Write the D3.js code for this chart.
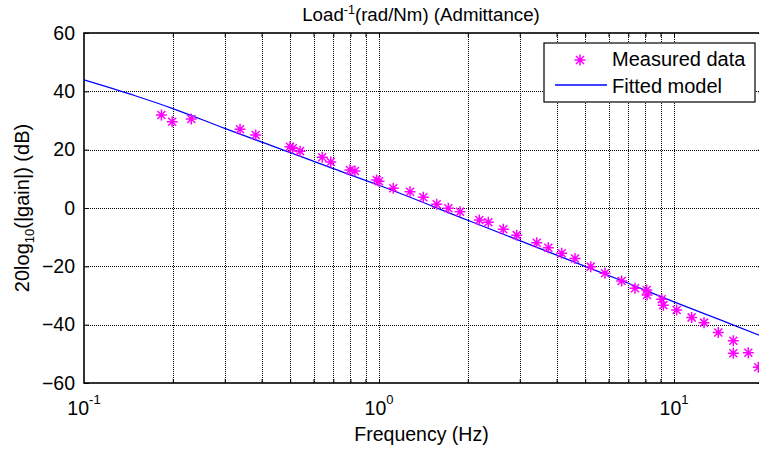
<!DOCTYPE html>
<html>
<head>
<meta charset="utf-8">
<script src="https://cdn.jsdelivr.net/npm/d3@7"></script>
<style>
body { margin: 0; background: #fff; }
svg { display: block; font-family: "Liberation Sans", Arial, sans-serif; }
</style>
</head>
<body>
<script>
//measured frequency response points (Hz, dB)
var measuredFreq = [0.183, 0.199, 0.231, 0.338, 0.382, 0.499, 0.51, 0.54, 0.642, 0.686, 0.797, 0.829,
	0.982, 1.0, 1.118, 1.274, 1.413, 1.569, 1.718, 1.882, 2.188, 2.347, 2.638, 2.93, 3.424, 3.749,
	4.162, 4.617, 5.22, 5.835, 6.647, 7.374, 8.08, 8.1, 9.085, 9.2, 10.21, 11.48, 12.64, 14.13,
	15.89, 15.89, 17.86, 19.31];
var measuredGain = [31.9, 29.6, 30.5, 27.0, 25.0, 21.0, 20.5, 19.5, 17.4, 15.8, 13.0, 12.7,
	9.6, 9.2, 6.8, 5.6, 3.7, 1.3, -0.1, -1.3, -4.1, -4.9, -7.3, -9.3, -11.9, -13.6,
	-15.5, -17.3, -20.1, -22.4, -25.0, -27.5, -28.1, -29.8, -31.3, -33.3, -35.0, -37.5, -39.3, -42.7,
	-45.5, -49.8, -49.6, -54.6];

//fitted model curve
var modelFreq = [0.1, 0.15, 0.2, 0.3, 0.5, 0.7, 1, 2, 3, 5, 7, 10, 15, 20];
var modelGain = [43.9, 38.4, 34.1, 27.3, 19.0, 13.5, 7.8, -4.2, -11.2, -20.0, -25.8, -32.2, -39.1, -44.1];

//axis ticks
var yTicks = [-60, -40, -20, 0, 20, 40, 60];
var xTickExps = [-1, 0, 1];
var xDomain = [0.1, 20];
var yDomain = [-60, 60];

//frame
var width = 759,
	height = 451,
	plotLeft = 84,
	plotTop = 33,
	plotBottom = 383,
	decade = 295,
	plotRight = plotLeft + decade * Math.log10(xDomain[1] / xDomain[0]),
	tickFont = 19.5;

var x = d3.scaleLog()
	.domain(xDomain)
	.range([plotLeft, plotRight]);

var y = d3.scaleLinear()
	.domain(yDomain)
	.range([plotBottom, plotTop]);

//snap a coordinate to the pixel grid so dotted lines stay crisp
function snap(v){
	return Math.round(v) + 0.5;
}

var svg = d3.select("body")
	.append("svg")
	.attr("width", width)
	.attr("height", height);

//dotted grid
var minorTicks = x.ticks().filter(function(d){ return d > xDomain[0] && d < xDomain[1]; });

svg.append("g")
	.attr("class", "grid")
	.selectAll("line")
	.data(minorTicks)
	.enter()
	.append("line")
	.attr("x1", function(d){ return snap(x(d)); })
	.attr("x2", function(d){ return snap(x(d)); })
	.attr("y1", plotTop)
	.attr("y2", plotBottom)
	.attr("stroke", "#000")
	.attr("stroke-width", 1)
	.attr("stroke-dasharray", "1,1");

svg.append("g")
	.attr("class", "grid")
	.selectAll("line")
	.data(yTicks.slice(1, -1))
	.enter()
	.append("line")
	.attr("x1", plotLeft)
	.attr("x2", plotRight)
	.attr("y1", function(d){ return snap(y(d)); })
	.attr("y2", function(d){ return snap(y(d)); })
	.attr("stroke", "#000")
	.attr("stroke-width", 1)
	.attr("stroke-dasharray", "1,1");

//inward tick marks, bottom/top
var xAxisBottom = d3.axisBottom(x).tickValues(minorTicks).tickSizeInner(-4).tickSizeOuter(0).tickFormat("");
svg.append("g").attr("transform", "translate(0," + plotBottom + ")").call(xAxisBottom);
var xAxisTop = d3.axisTop(x).tickValues(minorTicks).tickSizeInner(-4).tickSizeOuter(0).tickFormat("");
svg.append("g").attr("transform", "translate(0," + plotTop + ")").call(xAxisTop);

//left axis with labels
var yAxisLeft = d3.axisLeft(y).tickValues(yTicks).tickSizeInner(-5).tickSizeOuter(0).tickPadding(9);
var yAxisG = svg.append("g").attr("transform", "translate(" + plotLeft + ",0)").call(yAxisLeft);
yAxisG.selectAll("text")
	.attr("font-size", tickFont)
	.attr("font-family", "Liberation Sans, Arial, sans-serif")
	.attr("fill", "#000");
var yAxisRight = d3.axisRight(y).tickValues(yTicks).tickSizeInner(-5).tickSizeOuter(0).tickFormat("");
svg.append("g").attr("transform", "translate(" + plotRight + ",0)").call(yAxisRight);

svg.selectAll(".domain").remove();
svg.selectAll(".tick line").attr("stroke", "#000");

//axes box
svg.append("rect")
	.attr("x", plotLeft)
	.attr("y", plotTop)
	.attr("width", plotRight - plotLeft)
	.attr("height", plotBottom - plotTop)
	.attr("fill", "none")
	.attr("stroke", "#000")
	.attr("stroke-width", 1.6);

//x tick labels as powers of ten
var xLabels = svg.selectAll(".xlabel")
	.data(xTickExps)
	.enter()
	.append("text")
	.attr("class", "xlabel")
	.attr("x", function(d){ return x(Math.pow(10, d)); })
	.attr("y", 415)
	.attr("text-anchor", "middle")
	.attr("font-size", tickFont);
xLabels.append("tspan").text("10");
xLabels.append("tspan")
	.attr("dy", -11)
	.attr("font-size", 13)
	.text(function(d){ return d; });

//fitted model line
var line = d3.line()
	.x(function(d){ return x(d[0]); })
	.y(function(d){ return y(d[1]); })
	.curve(d3.curveMonotoneX);

svg.append("path")
	.datum(d3.zip(modelFreq, modelGain))
	.attr("d", line)
	.attr("fill", "none")
	.attr("stroke", "#0000ff")
	.attr("stroke-width", 1.3);

//asterisk marker
function star(g){
	var a = 5.5, b = 4;
	g.append("path")
		.attr("d", "M" + (-a) + ",0H" + a + "M0," + (-a) + "V" + a +
			"M" + (-b) + "," + (-b) + "L" + b + "," + b +
			"M" + (-b) + "," + b + "L" + b + "," + (-b))
		.attr("stroke", "#ff00ff")
		.attr("stroke-width", 1.5)
		.attr("fill", "none");
}

svg.selectAll(".point")
	.data(d3.zip(measuredFreq, measuredGain))
	.enter()
	.append("g")
	.attr("class", "point")
	.attr("transform", function(d){ return "translate(" + x(d[0]) + "," + y(d[1]) + ")"; })
	.call(star);

//title
var title = svg.append("text")
	.attr("x", 421)
	.attr("y", 20.5)
	.attr("text-anchor", "middle")
	.attr("font-size", 18.7);
title.append("tspan").text("Load");
title.append("tspan").attr("dy", -7).attr("font-size", 12.5).text("-1");
title.append("tspan").attr("dy", 7).text("(rad/Nm) (Admittance)");

//x label
svg.append("text")
	.attr("x", 421.5)
	.attr("y", 441)
	.attr("text-anchor", "middle")
	.attr("font-size", 19.5)
	.text("Frequency (Hz)");

//y label
var yLabel = svg.append("text")
	.attr("transform", "translate(29," + ((plotTop + plotBottom) / 2) + ") rotate(-90)")
	.attr("text-anchor", "middle")
	.attr("font-size", 20);
yLabel.append("tspan").text("20log");
yLabel.append("tspan").attr("dy", 5).attr("font-size", 13).text("10");
yLabel.append("tspan").attr("dy", -5).text("(|gain|) (dB)");

//legend
var legend = svg.append("g").attr("class", "legend");
legend.append("rect")
	.attr("x", 544)
	.attr("y", 43)
	.attr("width", 211)
	.attr("height", 59)
	.attr("fill", "#fff")
	.attr("stroke", "#000")
	.attr("stroke-width", 1.2);
legend.append("g")
	.attr("transform", "translate(580,60)")
	.call(star);
legend.append("text")
	.attr("x", 612)
	.attr("y", 66)
	.attr("font-size", 20)
	.text("Measured data");
legend.append("line")
	.attr("x1", 555)
	.attr("x2", 607)
	.attr("y1", 85)
	.attr("y2", 85)
	.attr("stroke", "#0000ff")
	.attr("stroke-width", 1.3);
legend.append("text")
	.attr("x", 612)
	.attr("y", 92.5)
	.attr("font-size", 20)
	.text("Fitted model");
</script>
</body>
</html>
